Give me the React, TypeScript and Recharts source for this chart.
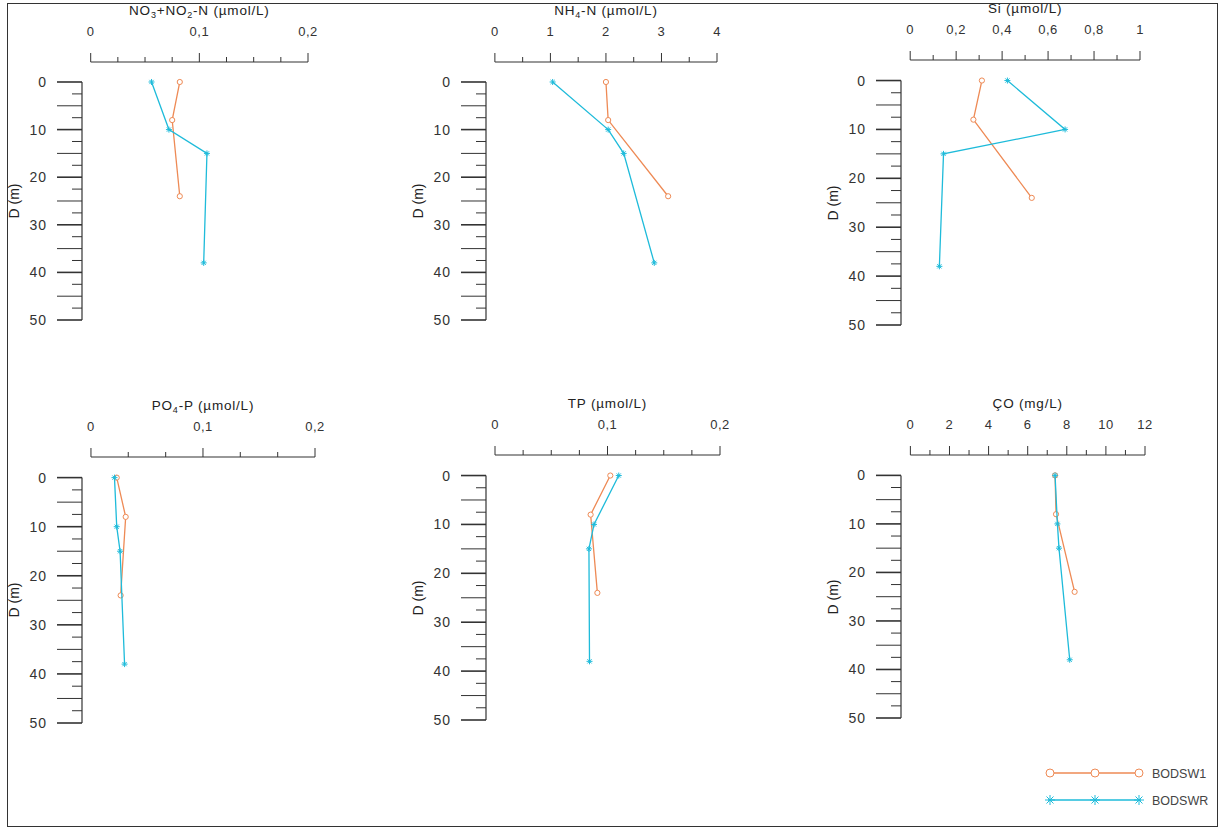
import React from 'react'
import {
  ScatterChart,
  Scatter,
  XAxis,
  YAxis,
  ReferenceLine,
  Legend
} from 'recharts'

// sampling depths (m) of the two stations
const depthsW1 = [0, 8, 24]
const depthsWR = [0, 10, 15, 38]
const depthTicks = [
  0, 2.5, 5, 7.5, 10, 12.5, 15, 17.5, 20, 22.5, 25, 27.5, 30, 32.5, 35, 37.5,
  40, 42.5, 45, 47.5, 50
]

// measured values, same order as the depths
const no3W1 = [0.082, 0.075, 0.082]
const no3WR = [0.056, 0.072, 0.107, 0.104]
const nh4W1 = [2.0, 2.04, 3.12]
const nh4WR = [1.04, 2.04, 2.32, 2.87]
const siW1 = [0.312, 0.275, 0.529]
const siWR = [0.423, 0.674, 0.145, 0.127]
const po4W1 = [0.023, 0.031, 0.0265]
const po4WR = [0.021, 0.023, 0.026, 0.03]
const tpW1 = [0.1025, 0.085, 0.091]
const tpWR = [0.11, 0.088, 0.0835, 0.084]
const doW1 = [7.4, 7.45, 8.4]
const doWR = [7.4, 7.52, 7.6, 8.15]

// x axis ticks and labelled ticks
const no3Ticks = [0, 0.025, 0.05, 0.075, 0.1, 0.125, 0.15, 0.175, 0.2]
const no3Labels = [0, 0.1, 0.2]
const nh4Ticks = [0, 0.5, 1, 1.5, 2, 2.5, 3, 3.5, 4]
const nh4Labels = [0, 1, 2, 3, 4]
const siTicks = [0, 0.1, 0.2, 0.3, 0.4, 0.5, 0.6, 0.7, 0.8, 0.9, 1]
const siLabels = [0, 0.2, 0.4, 0.6, 0.8, 1]
const po4Ticks = [0, 0.0333, 0.0667, 0.1, 0.1333, 0.1667, 0.2]
const po4Labels = [0, 0.1, 0.2]
const tpTicks = [0, 0.025, 0.05, 0.075, 0.1, 0.125, 0.15, 0.175, 0.2]
const tpLabels = [0, 0.1, 0.2]
const doTicks = [0, 1, 2, 3, 4, 5, 6, 7, 8, 9, 10, 11, 12]
const doLabels = [0, 2, 4, 6, 8, 10, 12]

const seriesNames = ['BODSW1', 'BODSWR']
const seriesColors = ['#EE8A55', '#1EBBDA']

const FONT = '"Liberation Sans", Arial, sans-serif'
const AXIS = '#333'
const Y_PAD = 4.2
const X_PAD = 0.04
const Y_AXIS_W = 82
const X_AXIS_H = 62

const toPoints = (depths: number[], values: number[]) =>
  depths.map((d, i) => ({d, v: values[i]}))

const fmt = (v: number) => String(v).replace('.', ',')

const XTick = (props: any) => {
  const {x, y, payload, labels} = props
  const v = payload.value
  const major = labels.some((l: number) => Math.abs(l - v) < 1e-6)
  return (
    <g>
      <line x1={x} y1={y} x2={x} y2={y - (major ? 9 : 5)} stroke={AXIS} />
      {major && (
        <text
          x={x}
          y={y - 26}
          textAnchor="middle"
          fontSize={13}
          letterSpacing={0.5}
          fill="#333"
          fontFamily={FONT}
        >
          {fmt(v)}
        </text>
      )}
    </g>
  )
}

const YTick = (props: any) => {
  const {x, y, payload} = props
  const v = payload.value
  const len = v % 5 === 0 ? 25 : 10
  return (
    <g>
      <line
        x1={x - len}
        y1={y}
        x2={x}
        y2={y}
        stroke={AXIS}
        strokeWidth={v % 10 === 0 ? 1.6 : 1}
      />
      {v % 10 === 0 && (
        <text
          x={x - 35}
          y={y + 5}
          textAnchor="end"
          fontSize={14}
          letterSpacing={1}
          fill="#333"
          fontFamily={FONT}
        >
          {v}
        </text>
      )}
    </g>
  )
}

const circleShape = (color: string, r: number) => (p: any) =>
  <circle cx={p.cx} cy={p.cy} r={r} fill="#fff" stroke={color} strokeWidth={1} />

const starShape = (color: string, s: number) => (p: any) => (
  <g stroke={color} strokeWidth={1}>
    <line x1={p.cx - s} y1={p.cy} x2={p.cx + s} y2={p.cy} />
    <line x1={p.cx} y1={p.cy - s} x2={p.cx} y2={p.cy + s} />
    <line x1={p.cx - s * 0.7} y1={p.cy - s * 0.7} x2={p.cx + s * 0.7} y2={p.cy + s * 0.7} />
    <line x1={p.cx - s * 0.7} y1={p.cy + s * 0.7} x2={p.cx + s * 0.7} y2={p.cy - s * 0.7} />
  </g>
)

const LegendContent = () => (
  <svg width={180} height={50} style={{overflow: 'visible'}}>
    {seriesNames.map((name, i) => {
      const y = 11 + i * 27
      const xs = [10, 55, 99]
      return (
        <g key={name}>
          <line x1={8} y1={y} x2={101} y2={y} stroke={seriesColors[i]} strokeWidth={1.3} />
          {xs.map((x) =>
            i === 0
              ? circleShape(seriesColors[0], 4)({cx: x, cy: y})
              : <g key={x}>{starShape(seriesColors[1], 5)({cx: x, cy: y})}</g>
          )}
          <text x={112} y={y + 4.5} fontSize={12.5} fill="#444" fontFamily={FONT}>
            {name}
          </text>
        </g>
      )
    })}
  </svg>
)

interface PanelProps {
  title: React.ReactNode
  w1: number[]
  wr: number[]
  ticks: number[]
  labels: number[]
  left: number
  top: number
  width: number
  height: number
  legend?: boolean
}

const Panel: React.FC<PanelProps> = ({
  title,
  w1,
  wr,
  ticks,
  labels,
  left,
  top,
  width,
  height,
  legend
}) => {
  const max = ticks[ticks.length - 1]
  const xPad = max * X_PAD
  const chartW = Y_AXIS_W + width + 20
  const chartH = X_AXIS_H + height + 10
  const titleX = Y_AXIS_W + (width * (X_PAD + 0.5)) / (1 + X_PAD)
  const labelY = X_AXIS_H + (height * (Y_PAD + 25)) / (50 + Y_PAD)
  return (
    <div
      style={{
        position: 'absolute',
        left: left - Y_AXIS_W,
        top: top - X_AXIS_H,
        width: chartW,
        height: chartH
      }}
    >
      <ScatterChart
        width={chartW}
        height={chartH}
        margin={{top: 0, right: 20, bottom: 10, left: 0}}
      >
        <XAxis
          type="number"
          dataKey="v"
          orientation="top"
          height={X_AXIS_H}
          domain={[-xPad, max]}
          allowDataOverflow
          ticks={ticks}
          interval={0}
          axisLine={false}
          tickLine={false}
          tickSize={0}
          tickMargin={0}
          tick={(p: any) => <XTick {...p} labels={labels} />}
        />
        <YAxis
          type="number"
          dataKey="d"
          width={Y_AXIS_W}
          reversed
          domain={[-Y_PAD, 50]}
          allowDataOverflow
          ticks={depthTicks}
          interval={0}
          axisLine={false}
          tickLine={false}
          tickSize={0}
          tickMargin={0}
          tick={(p: any) => <YTick {...p} />}
        />
        <ReferenceLine
          segment={[{x: 0, y: -Y_PAD}, {x: max, y: -Y_PAD}]}
          stroke={AXIS}
          strokeWidth={1.2}
          ifOverflow="visible"
        />
        <ReferenceLine
          segment={[{x: -xPad, y: 0}, {x: -xPad, y: 50}]}
          stroke={AXIS}
          strokeWidth={1.2}
          ifOverflow="visible"
        />
        <Scatter
          name={seriesNames[0]}
          data={toPoints(depthsW1, w1)}
          fill={seriesColors[0]}
          line={{stroke: seriesColors[0], strokeWidth: 1.3}}
          lineType="joint"
          shape={circleShape(seriesColors[0], 2.6)}
          isAnimationActive={false}
        />
        <Scatter
          name={seriesNames[1]}
          data={toPoints(depthsWR, wr)}
          fill={seriesColors[1]}
          line={{stroke: seriesColors[1], strokeWidth: 1.3}}
          lineType="joint"
          shape={starShape(seriesColors[1], 3)}
          isAnimationActive={false}
        />
        {legend && (
          <Legend
            layout="vertical"
            align="center"
            verticalAlign="middle"
            wrapperStyle={{left: 221, top: 369, width: 180, height: 50}}
            content={LegendContent}
          />
        )}
      </ScatterChart>
      <div
        style={{
          position: 'absolute',
          left: titleX,
          top: X_AXIS_H - 59,
          transform: 'translateX(-50%)',
          whiteSpace: 'nowrap',
          fontFamily: FONT,
          fontSize: 13.5,
          letterSpacing: 0.8,
          lineHeight: '16px',
          color: '#222'
        }}
      >
        {title}
      </div>
      <div
        style={{
          position: 'absolute',
          left: 14,
          top: labelY,
          transform: 'translate(-50%, -50%) rotate(-90deg)',
          whiteSpace: 'nowrap',
          fontFamily: FONT,
          fontSize: 14,
          lineHeight: '16px',
          color: '#222'
        }}
      >
        D (m)
      </div>
    </div>
  )
}

const Sub = ({children}: {children: React.ReactNode}) => (
  <span style={{fontSize: 9, position: 'relative', top: 3}}>{children}</span>
)

const App: React.FC = () => {
  return (
    <div style={{position: 'absolute', left: 0, top: 0, width: 1226, height: 829, background: '#fff'}}>
      <div
        style={{
          position: 'absolute',
          left: 7,
          top: 3,
          width: 1211,
          height: 824,
          border: '1.5px solid #333',
          boxSizing: 'border-box'
        }}
      />
      <Panel
        title={<>NO<Sub>3</Sub>+NO<Sub>2</Sub>-N (µmol/L)</>}
        w1={no3W1}
        wr={no3WR}
        ticks={no3Ticks}
        labels={no3Labels}
        left={82}
        top={62}
        width={226}
        height={258}
      />
      <Panel
        title={<>NH<Sub>4</Sub>-N (µmol/L)</>}
        w1={nh4W1}
        wr={nh4WR}
        ticks={nh4Ticks}
        labels={nh4Labels}
        left={486}
        top={62}
        width={231}
        height={258}
      />
      <Panel
        title="Si (µmol/L)"
        w1={siW1}
        wr={siWR}
        ticks={siTicks}
        labels={siLabels}
        left={901}
        top={60}
        width={239}
        height={265}
      />
      <Panel
        title={<>PO<Sub>4</Sub>-P (µmol/L)</>}
        w1={po4W1}
        wr={po4WR}
        ticks={po4Ticks}
        labels={po4Labels}
        left={82}
        top={457}
        width={233}
        height={266}
      />
      <Panel
        title="TP (µmol/L)"
        w1={tpW1}
        wr={tpWR}
        ticks={tpTicks}
        labels={tpLabels}
        left={486}
        top={455}
        width={234}
        height={265}
      />
      <Panel
        title="ÇO (mg/L)"
        w1={doW1}
        wr={doWR}
        ticks={doTicks}
        labels={doLabels}
        left={901}
        top={455}
        width={244}
        height={263}
        legend
      />
    </div>
  )
}

export default App
